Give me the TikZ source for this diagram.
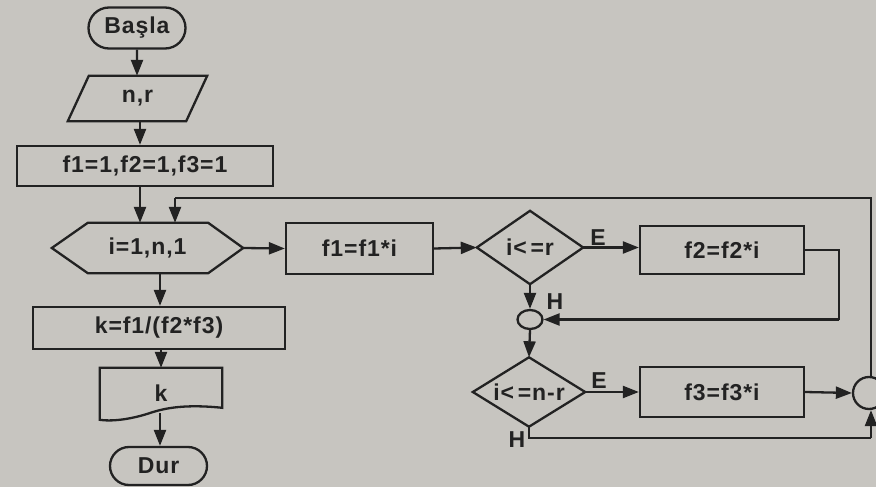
\documentclass[tikz,border=0pt]{standalone}
\usepackage{fontspec}
\setmainfont{Liberation Sans}
\newfontfamily\flowfont{Liberation Sans Bold}[LetterSpace=4]
\usetikzlibrary{arrows.meta,shapes.geometric,shapes.misc,calc}
\definecolor{paper}{HTML}{C7C5C0}
\definecolor{ink}{HTML}{222222}
\tikzset{
  txt/.style={font=\flowfont\fontsize{23}{25}\selectfont, text=ink, inner sep=0pt},
  outline/.style={draw=ink, line width=2.3pt, line join=miter},
  flowbox/.style={txt, outline, rectangle},
  termbox/.style={txt, outline, rounded rectangle},
  ghost/.style={txt, rectangle},
  joinpt/.style={outline, ellipse, inner sep=0pt},
  conn/.style={draw=ink, line width=2.3pt},
  arr/.style={conn, -{Triangle[length=16pt,width=12pt]}},
  lbl/.style={txt}
}
\begin{document}
\begin{tikzpicture}[x=1pt,y=-1pt]
  \fill[paper] (0,0) rectangle (876,487);
  \useasboundingbox (0,0) rectangle (876,487);
  \clip (0,0) rectangle (876,487);

  % main column
  \node[termbox, minimum width=97pt, minimum height=41pt] (start) at (137,28) {Başla};
  \node[ghost, minimum width=139pt, minimum height=45pt] (input) at (137.5,98.5) {n,r};
  \draw[outline] ($(input.north west)+(21,0)$) -- (input.north east)
    -- ($(input.south east)+(-21,0)$) -- (input.south west) -- cycle;
  \node[flowbox, minimum width=256pt, minimum height=40pt] (init) at (145,166) {f1=1,f2=1,f3=1};
  \node[ghost, minimum width=191pt, minimum height=50pt] (loop) at (147.5,248) {i=1,n,1};
  \draw[outline] (loop.west) -- ($(loop.north west)+(36,0)$) -- ($(loop.north east)+(-35,0)$)
    -- (loop.east) -- ($(loop.south east)+(-35,0)$) -- ($(loop.south west)+(36,0)$) -- cycle;
  \node[flowbox, minimum width=252pt, minimum height=42pt] (calc) at (159,328) {k=f1/(f2*f3)};
  \node[ghost, minimum width=122pt, minimum height=50pt] (out) at (161,393) {k};
  \draw[outline] (out.north west) -- (out.north east) -- ($(out.north east)+(0,40)$)
    .. controls (185,404) and (165,408) .. (150,413)
    .. controls (135,418) and (115,422) .. ($(out.north west)+(0,52)$) -- cycle;
  \node[termbox, minimum width=97pt, minimum height=38pt] (stop) at (158.5,466) {Dur};

  % loop body
  \node[flowbox, minimum width=147pt, minimum height=51pt] (m1) at (359.5,248.5) {f1=f1*i};
  \node[ghost, minimum width=106pt, minimum height=73pt] (d1) at (530,247.5) {i<\,=r};
  \draw[outline] (d1.west) -- (d1.north) -- (d1.east) -- (d1.south) -- cycle;
  \node[flowbox, minimum width=164pt, minimum height=48pt] (m2) at (722,250) {f2=f2*i};
  \node[joinpt, minimum width=25pt, minimum height=19pt] (j1) at (530,319.5) {};
  \node[ghost, minimum width=112pt, minimum height=69pt] (d2) at (529,392) {i<\,=n-r};
  \draw[outline] (d2.west) -- (d2.north) -- (d2.east) -- (d2.south) -- cycle;
  \node[flowbox, minimum width=164pt, minimum height=50pt] (m3) at (722,392) {f3=f3*i};
  \node[joinpt, minimum width=32pt, minimum height=32pt] (j2) at (869,393) {};

  % branch labels
  \node[lbl] (e1) at (598,238) {E};
  \node[lbl] (h1) at (555,302) {H};
  \node[lbl] (e2) at (599,381) {E};
  \node[lbl] (h2) at (517,440) {H};

  % connectors
  \coordinate (top) at (871,198);
  \coordinate (bot) at (871,438);
  \coordinate (a0) at (140,121);
  \coordinate (a1) at (140,186);
  \coordinate (a2) at (175,198);
  \coordinate (a3) at (160,273);
  \coordinate (a4) at (160,413);
  \draw[arr] (start) -- (start |- input.north);
  \draw[arr] (a0) -- (a0 |- init.north);
  \draw[arr] (a1) -- (a1 |- loop.north);
  \draw[arr] (loop.east) -- (m1.west);
  \draw[arr] (m1.east) -- (d1.west);
  \draw[arr] (d1.east) -- (d1.east -| m2.west);
  \draw[arr] (d1.south) -- (j1.north);
  \draw[conn] (m2.east) -- ++(34,0) coordinate (r1) -- (r1 |- j1);
  \draw[arr] (r1 |- j1) -- (j1.east);
  \draw[arr] (j1.south) -- (d2.north);
  \draw[arr] (d2.east) -- (m3.west);
  \draw[arr] (m3.east) -- (j2.west);
  \draw[conn] (d2.south) -- (d2.south |- bot) -- (bot);
  \draw[arr] (bot) -- (j2.south -| bot);
  \draw[conn] (j2.north -| top) -- (top) -- (a2);
  \draw[arr] (a2) -- (a2 |- loop.north);
  \draw[arr] (a3) -- (a3 |- calc.north);
  \draw[arr] (calc.south -| out) -- (out.north);
  \draw[arr] (a4) -- (a4 |- stop.north);
\end{tikzpicture}
\end{document}
